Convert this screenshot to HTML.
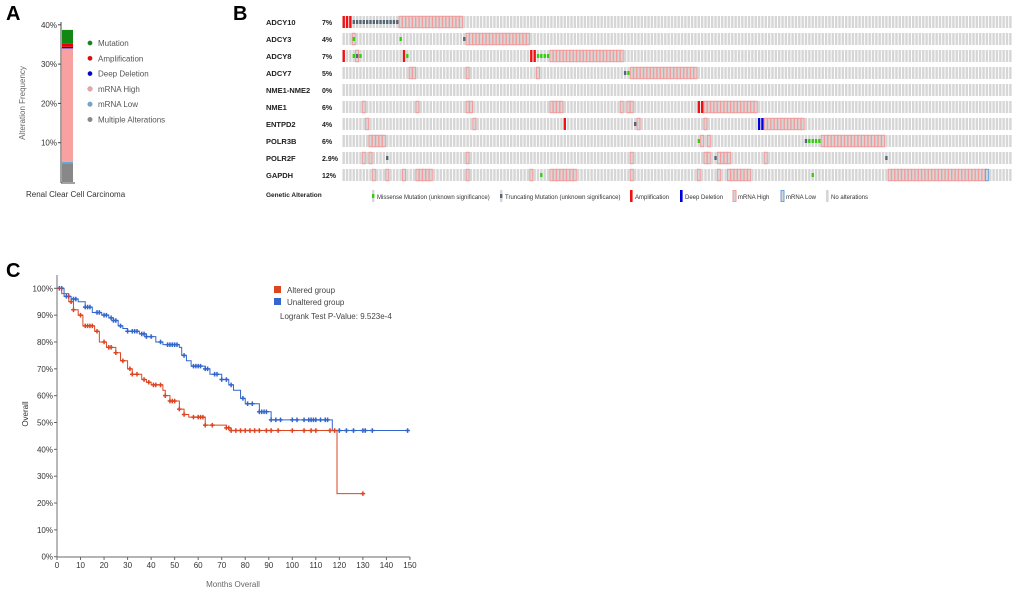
<!DOCTYPE html>
<html><head><meta charset="utf-8"><style>
body{margin:0;background:#fff;width:1020px;height:592px;overflow:hidden;font-family:"Liberation Sans",sans-serif}
svg{position:absolute;left:0;top:0}
</style></head><body>
<svg id="s" width="1020" height="592" xmlns="http://www.w3.org/2000/svg">
<text x="6" y="20" font-size="20" font-weight="bold">A</text>
<text x="233" y="20" font-size="20" font-weight="bold">B</text>
<text x="6" y="277" font-size="20" font-weight="bold">C</text>
<g id="ga"></g>
<g id="gb"></g>
<g id="gc"></g>
</svg>
<script>
// Panel A data
const aTypes=["Multiple Alterations","mRNA Low","mRNA High","Deep Deletion","Amplification","Mutation"];
const aValues=[4.8,0.3,28.9,0.4,0.9,3.4];
const aColors=["#888","#6aa8d8","#f7a1a1","#0000cc","#e00","#118811"];
const aTicks=[10,20,30,40];
// Panel B data
const genes=["ADCY10","ADCY3","ADCY8","ADCY7","NME1-NME2","NME1","ENTPD2","POLR3B","POLR2F","GAPDH"];
const pcts=["7%","4%","7%","5%","0%","6%","4%","6%","2.9%","12%"];
const nCols=200;
const alts=[
 [[0,2,"amp"],[3,16,"trunc"],[17,35,"high"]],
 [[3,3,"high"],[3,3,"mis"],[17,17,"mis"],[36,36,"trunc"],[37,55,"high"]],
 [[0,0,"amp"],[3,3,"mis"],[4,4,"high"],[4,4,"trunc"],[5,5,"mis"],[18,18,"amp"],[19,19,"mis"],[56,57,"amp"],[58,61,"mis"],[62,83,"high"]],
 [[20,21,"high"],[37,37,"high"],[58,58,"high"],[84,84,"trunc"],[85,85,"mis"],[86,105,"high"]],
 [],
 [[6,6,"high"],[22,22,"high"],[37,38,"high"],[62,65,"high"],[83,83,"high"],[85,86,"high"],[106,107,"amp"],[108,123,"high"]],
 [[7,7,"high"],[39,39,"high"],[66,66,"amp"],[87,87,"trunc"],[88,88,"high"],[108,108,"high"],[124,125,"del"],[126,137,"high"]],
 [[8,12,"high"],[106,106,"mis"],[107,107,"high"],[109,109,"high"],[138,138,"trunc"],[139,142,"mis"],[143,161,"high"]],
 [[6,6,"high"],[8,8,"high"],[13,13,"trunc"],[37,37,"high"],[86,86,"high"],[108,109,"high"],[111,111,"trunc"],[112,115,"high"],[126,126,"high"],[162,162,"trunc"]],
 [[9,9,"high"],[13,13,"high"],[18,18,"high"],[22,26,"high"],[37,37,"high"],[56,56,"high"],[59,59,"mis"],[62,69,"high"],[86,86,"high"],[106,106,"high"],[112,112,"high"],[115,121,"high"],[140,140,"mis"],[163,191,"high"],[192,192,"low"]]
];
// Panel C data
const redT=[0,2,5,7,9,11,16,18,21,25,27,30,32,36,38,40,45,46,48,52,54,56,63,72,74,119];
const redS=[100,98,95,92,90,86,84,80,78,76,73,70,68,66,65,64,62,60,58,55,53,52,49,48,47,23.5];
const redEnd=130;
const redCens=[6,7,10,12,13,14,15,17,20,22,23,25,28,31,32,34,37,39,41,42,44,46,48,49,50,52,54,58,60,61,62,63,66,72,73,74,76,78,80,82,84,86,89,91,94,100,105,108,110,116,118,130];
const blueT=[0,3,6,9,12,15,19,22,24,26,28,30,35,38,42,45,52,53,55,57,63,65,70,73,75,78,80,86,91,117];
const blueS=[100,97,96,95,93,91,90,89,88,86,85,84,83,82,80,79,78,75,73,71,70,68,66,64,62,59,57,54,51,47];
const blueEnd=149;
const blueCens=[1,2,4,5,7,8,12,13,14,17,18,20,21,23,24,25,27,30,32,33,34,36,37,38,40,44,47,48,49,50,51,54,58,59,60,61,63,64,67,68,70,72,74,79,81,83,86,87,88,89,91,93,95,100,102,105,107,108,109,110,112,114,115,120,123,126,130,131,134,149];
const xTicks=[0,10,20,30,40,50,60,70,80,90,100,110,120,130,140,150];
const yTicks=[0,10,20,30,40,50,60,70,80,90,100];

const NS="http://www.w3.org/2000/svg";
function mk(p,tag,at,txt){const e=document.createElementNS(NS,tag);for(const k in at)e.setAttribute(k,at[k]);if(txt!==undefined)e.textContent=txt;p.appendChild(e);return e;}

// ---- Panel A
const ga=document.getElementById('ga');
const ay=v=>182-v*3.93;
mk(ga,'line',{x1:61,y1:22,x2:61,y2:183,stroke:'#444','stroke-width':1});
mk(ga,'line',{x1:61,y1:183,x2:75,y2:183,stroke:'#444','stroke-width':1});
aTicks.forEach(t=>{
 const l=mk(ga,'text',{x:57,y:ay(t)+3,'font-size':8,'text-anchor':'end',fill:'#333'},t+'%');
 
 
 mk(ga,'line',{x1:58,y1:ay(t),x2:61,y2:ay(t),stroke:'#444'});
});
let acc=0;
aValues.forEach((v,i)=>{
 const r=mk(ga,'rect',{x:62,y:ay(acc+v),width:11,height:ay(acc)-ay(acc+v),fill:aColors[i]});
 
 
 acc+=v;
});
mk(ga,'text',{x:0,y:0,'font-size':8,fill:'#666',transform:'translate(25,103) rotate(-90)','text-anchor':'middle'},'Alteration Frequency');
mk(ga,'text',{x:26,y:197,'font-size':8,fill:'#333'},'Renal Clear Cell Carcinoma');
[...aTypes].reverse().forEach((t,i)=>{
 const y=43+i*15.3;
 const c=aColors[aTypes.length-1-i];
 mk(ga,'circle',{cx:90,cy:y,r:2.3,fill:c,stroke:'#888','stroke-width':0.4});
 const l=mk(ga,'text',{x:98,y:y+3,'font-size':8,fill:'#555'},t);
 
 
});

// ---- Panel B
const gb=document.getElementById('gb');
const x0=342.5,pitch=3.35,cw=2.4;
const cx=c=>x0+c*pitch;
genes.forEach((g,r)=>{
 const top=16+r*17, h=12;
 const gl=mk(gb,'text',{x:266,y:top+9,'font-size':7.5,'font-weight':'bold',fill:'#222'},g);
 
 
 mk(gb,'text',{x:322,y:top+9,'font-size':7,'font-weight':'bold',fill:'#222'},pcts[r]);
 for(let c=0;c<nCols;c++) mk(gb,'rect',{x:cx(c),y:top,width:cw,height:h,fill:'#d6d6d6'});
 alts[r].forEach(([a,b,t])=>{
  for(let c=a;c<=b;c++){
   if(t==='high') mk(gb,'rect',{x:cx(c)-0.3,y:top+0.3,width:cw+0.6,height:h-0.6,fill:'#d6d6d6',stroke:'#f49a9a','stroke-width':1});
   else if(t==='low') mk(gb,'rect',{x:cx(c)-0.3,y:top+0.3,width:cw+0.6,height:h-0.6,fill:'#d6d6d6',stroke:'#6aa0d8','stroke-width':1});
   else if(t==='amp') mk(gb,'rect',{x:cx(c),y:top,width:cw,height:h,fill:'#ee1111'});
   else if(t==='del') mk(gb,'rect',{x:cx(c),y:top,width:cw,height:h,fill:'#0000dd'});
   else if(t==='mis') mk(gb,'rect',{x:cx(c),y:top+4,width:cw,height:4,fill:'#33cc11'});
   else if(t==='trunc') mk(gb,'rect',{x:cx(c),y:top+4,width:cw,height:4,fill:'#556677'});
  }
 });
});
mk(gb,'text',{x:266,y:197,'font-size':6.5,'font-weight':'bold',fill:'#222'},'Genetic Alteration');
const leg=[[372,'mis','Missense Mutation (unknown significance)'],[500,'trunc','Truncating Mutation (unknown significance)'],[630,'amp','Amplification'],[680,'del','Deep Deletion'],[733,'high','mRNA High'],[781,'low','mRNA Low'],[826,'none','No alterations']];
leg.forEach(([x,t,l])=>{
 const top=190;
 if(t==='mis'||t==='trunc'){mk(gb,'rect',{x:x,y:top,width:2.4,height:12,fill:'#d6d6d6'});mk(gb,'rect',{x:x,y:top+4,width:2.4,height:4,fill:t==='mis'?'#33cc11':'#556677'});}
 else if(t==='amp') mk(gb,'rect',{x:x,y:top,width:2.6,height:12,fill:'#ee1111'});
 else if(t==='del') mk(gb,'rect',{x:x,y:top,width:2.6,height:12,fill:'#0000dd'});
 else if(t==='high') mk(gb,'rect',{x:x,y:top+0.5,width:3,height:11,fill:'#d6d6d6',stroke:'#f49a9a'});
 else if(t==='low') mk(gb,'rect',{x:x,y:top+0.5,width:3,height:11,fill:'#d6d6d6',stroke:'#6aa0d8'});
 else mk(gb,'rect',{x:x,y:top,width:2.6,height:12,fill:'#d6d6d6'});
 const e=mk(gb,'text',{x:x+5,y:top+9,'font-size':6,fill:'#333'},l);
 
 
});

// ---- Panel C
const gc=document.getElementById('gc');
const X=m=>57+m*2.353, Y=s=>556.7-s*2.684;
mk(gc,'line',{x1:57,y1:275,x2:57,y2:557,stroke:'#888','stroke-width':1.2});
mk(gc,'line',{x1:57,y1:557,x2:410,y2:557,stroke:'#888','stroke-width':1.2});
yTicks.forEach(t=>{
 mk(gc,'line',{x1:54,y1:Y(t),x2:57,y2:Y(t),stroke:'#666'});
 const l=mk(gc,'text',{x:53,y:Y(t)+3,'font-size':8,'text-anchor':'end',fill:'#333'},t+'%');
 
 
});
xTicks.forEach(t=>{
 mk(gc,'line',{x1:X(t),y1:557,x2:X(t),y2:560,stroke:'#666'});
 const l=mk(gc,'text',{x:X(t),y:568,'font-size':8,'text-anchor':'middle',fill:'#333'},t);
 
 
});
const xt=mk(gc,'text',{x:233,y:587,'font-size':8,'text-anchor':'middle',fill:'#666'},'Months Overall');

const yt=mk(gc,'text',{x:0,y:0,'font-size':8,'text-anchor':'middle',fill:'#333',transform:'translate(28,414) rotate(-90)'},'Overall');

function surv(T,S,t){let s=S[0];for(let i=0;i<T.length;i++)if(T[i]<=t)s=S[i];return s;}
function curve(T,S,end,cens,col,name){
 let d='M'+X(T[0])+','+Y(S[0]);
 for(let i=1;i<T.length;i++) d+=' H'+X(T[i])+' V'+Y(S[i]);
 d+=' H'+X(end);
 const p=mk(gc,'path',{d:d,fill:'none',stroke:col,'stroke-width':1});
 
 
 cens.forEach(c=>{
  const x=X(c),y=Y(surv(T,S,c));
  const m=mk(gc,'path',{d:`M${x-2.3},${y}H${x+2.3}M${x},${y-2.3}V${y+2.3}`,stroke:col,'stroke-width':1.5});
  
  
 });
}
curve(blueT,blueS,blueEnd,blueCens,'#3366cc','unaltered');
curve(redT,redS,redEnd,redCens,'#dd4422','altered');
mk(gc,'rect',{x:274,y:286,width:7,height:7,fill:'#dd4422'});
mk(gc,'text',{x:287,y:293,'font-size':8,fill:'#444'},'Altered group');
mk(gc,'rect',{x:274,y:298,width:7,height:7,fill:'#3366cc'});
mk(gc,'text',{x:287,y:305,'font-size':8,fill:'#444'},'Unaltered group');
mk(gc,'text',{x:280,y:319,'font-size':8,fill:'#444'},'Logrank Test P-Value: 9.523e-4');
</script>
</body></html>
